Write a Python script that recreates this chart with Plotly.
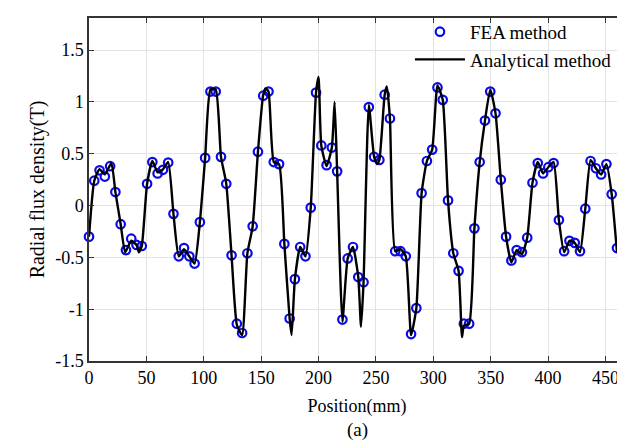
import plotly.graph_objects as go

# FEA sample positions (mm) and values (T)
fea_x = [0, 4.6, 9.2, 13.8, 18.4, 23, 27.6, 32.2, 36.8, 41.4,
         46, 50.6, 55.2, 59.8, 64.4, 69, 73.6, 78.2, 82.8, 87.4,
         92, 96.6, 101.2, 105.8, 110.4, 115, 119.6, 124.2, 128.8, 133.4,
         138, 142.6, 147.2, 151.8, 156.4, 161, 165.6, 170.2, 174.8, 179.4,
         184, 188.6, 193.2, 197.8, 202.4, 207, 211.6, 216.2, 220.8, 225.4,
         230, 234.6, 239.2, 243.8, 248.4, 253, 257.6, 262.2, 266.8, 271.4,
         276, 280.6, 285.2, 289.8, 294.4, 299, 303.6, 308.2, 312.8, 317.4,
         322, 326.6, 331.2, 335.8, 340.4, 345, 349.6, 354.2, 358.8, 363.4,
         368, 372.6, 377.2, 381.8, 386.4, 391, 395.6, 400.2, 404.8, 409.4,
         414, 418.6, 423.2, 427.8, 432.4, 437, 441.6, 446.2, 450.8, 455.4,
         460]
fea_y = [-0.30, 0.24, 0.34, 0.28, 0.38, 0.13, -0.18, -0.43, -0.32, -0.38,
         -0.39, 0.21, 0.42, 0.31, 0.345, 0.415, -0.08, -0.49, -0.41, -0.49,
         -0.56, -0.16, 0.46, 1.10, 1.10, 0.47, 0.21, -0.48, -1.14, -1.23,
         -0.46, -0.20, 0.52, 1.06, 1.10, 0.42, 0.40, -0.37, -1.09, -0.71,
         -0.40, -0.49, -0.02, 1.09, 0.58, 0.39, 0.56, 0.33, -1.10, -0.51,
         -0.40, -0.69, -0.74, 0.95, 0.47, 0.44, 1.07, 0.84, -0.44, -0.44,
         -0.49, -1.24, -0.99, 0.12, 0.43, 0.54, 1.14, 1.02, 0.05, -0.46,
         -0.63, -1.14, -1.14, -0.22, 0.42, 0.82, 1.10, 0.89, 0.25, -0.30,
         -0.53, -0.43, -0.45, -0.31, 0.22, 0.41, 0.31, 0.37, 0.41, -0.14,
         -0.44, -0.34, -0.36, -0.44, -0.03, 0.43, 0.36, 0.30, 0.40, 0.11,
         -0.41]

# Analytical curve
ana_x = [0, 4.6, 9.2, 13.8, 19.5, 23, 27.6, 31.5, 36.8, 41.4,
         43.5, 46, 50.6, 55.2, 59.8, 64.4, 69, 73.6, 78.2, 82.8,
         87.4, 92, 96.6, 101.2, 105.8, 110.4, 115, 119.6, 124.2, 128.8,
         133.4, 138, 142.6, 147.2, 151.8, 154, 156.4, 161, 165.6, 170.2,
         174.8, 176.5, 179.4, 184, 188.6, 193.2, 197.8, 200, 202.4, 207,
         211.6, 214, 216.2, 220.8, 225.4, 230, 234.6, 237, 239.2, 243.8,
         248.4, 251, 253, 257.6, 259.5, 262.2, 266.8, 271.4, 276, 280.6,
         285.2, 289.8, 294.4, 299, 303.6, 308.2, 312.8, 317.4, 322, 325,
         326.6, 331.2, 335.8, 340.4, 345, 349.6, 354.2, 358.8, 363.4, 368,
         372.6, 377.2, 381.8, 386.4, 391, 395.6, 400.2, 404.8, 409.4, 414,
         418.6, 423.2, 427.8, 432.4, 437, 441.6, 446.2, 450.8, 455.4, 460]
ana_y = [-0.30, 0.24, 0.35, 0.30, 0.41, 0.13, -0.18, -0.45, -0.34, -0.38,
         -0.45, -0.39, 0.21, 0.43, 0.32, 0.35, 0.42, -0.08, -0.49, -0.42,
         -0.49, -0.56, -0.16, 0.46, 1.12, 1.12, 0.47, 0.21, -0.48, -1.15,
         -1.25, -0.46, -0.20, 0.52, 1.07, 1.13, 1.10, 0.42, 0.40, -0.37,
         -1.09, -1.25, -0.71, -0.40, -0.49, -0.02, 1.09, 1.24, 0.58, 0.38,
         0.56, 1.00, 0.33, -1.12, -0.51, -0.40, -0.69, -1.17, -0.74, 0.97,
         0.47, 0.40, 0.44, 1.07, 1.15, 0.84, -0.44, -0.42, -0.49, -1.25,
         -0.99, 0.12, 0.43, 0.54, 1.16, 1.02, 0.05, -0.46, -0.63, -1.27,
         -1.16, -1.14, -0.22, 0.42, 0.82, 1.12, 0.89, 0.25, -0.30, -0.55,
         -0.43, -0.47, -0.31, 0.22, 0.42, 0.31, 0.37, 0.42, -0.14, -0.45,
         -0.34, -0.36, -0.45, -0.03, 0.44, 0.36, 0.30, 0.40, 0.11, -0.45]

x_ticks = [0, 50, 100, 150, 200, 250, 300, 350, 400, 450]
y_ticks = [-1.5, -1, -0.5, 0, 0.5, 1, 1.5]
y_ticktext = ["-1.5", "-1", "-0.5", "0", "0.5", "1", "1.5"]

FONT = "Liberation Serif"

fig = go.Figure()
fig.add_trace(go.Scatter(
    x=fea_x, y=fea_y, mode="markers", name="FEA method",
    marker=dict(symbol="circle-open", size=8.5, color="#0a0ae6",
                line=dict(width=2.2, color="#0a0ae6")),
    cliponaxis=False,
))
fig.add_trace(go.Scatter(
    x=ana_x, y=ana_y, mode="lines", name="Analytical method",
    line=dict(color="black", width=2.4, shape="spline", smoothing=0.5),
))

axis_common = dict(
    showgrid=True, gridcolor="#e3e3e3", gridwidth=1,
    showline=True, linecolor="#333333", linewidth=1.5, mirror="ticks",
    ticks="inside", ticklen=5, tickcolor="#333333",
    zeroline=False, automargin=False,
    tickfont=dict(family=FONT, size=18, color="black"),
)

fig.update_layout(
    width=625, height=446,
    margin=dict(l=81, r=8, t=5, b=93),
    paper_bgcolor="white", plot_bgcolor="white",
    font=dict(family=FONT, size=19, color="black"),
    showlegend=True,
    legend=dict(x=0.985, y=1.015, xanchor="right", yanchor="top",
                bgcolor="rgba(255,255,255,0)", borderwidth=0,
                font=dict(family=FONT, size=19, color="black"),
                itemwidth=50, tracegroupgap=0),
    xaxis=dict(range=[0, 467], tickvals=x_ticks,
               title=dict(text="Position(mm)", font=dict(family=FONT, size=18), standoff=12),
               **axis_common),
    yaxis=dict(range=[-1.5, 1.81], tickvals=y_ticks, ticktext=y_ticktext,
               title=dict(text="Radial flux density(T)", font=dict(family=FONT, size=20), standoff=5),
               **axis_common),
    annotations=[dict(text="(a)", x=0.5, y=-0.20, xref="paper", yref="paper",
                      xanchor="center", yanchor="middle", showarrow=False,
                      font=dict(family=FONT, size=19, color="black"))],
)

fig.write_html("out.html")
